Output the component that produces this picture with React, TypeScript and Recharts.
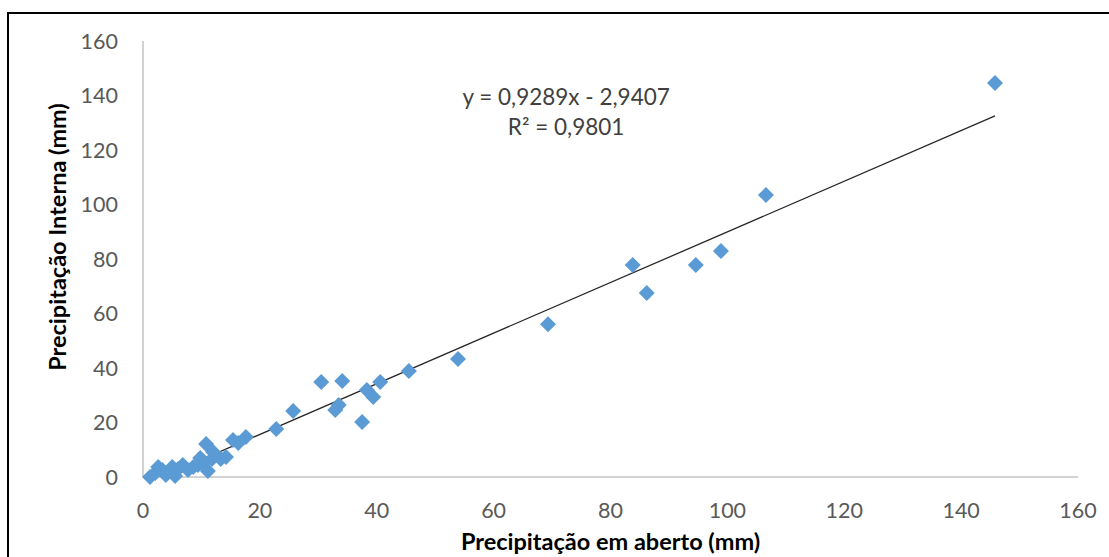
import React from "react";
import {
  ScatterChart,
  Scatter,
  XAxis,
  YAxis,
  ReferenceLine,
  ReferenceDot,
} from "recharts";

// Precipitação em aberto (mm) vs. precipitação interna (mm)
const openRain = [
  145.8, 106.6, 98.9, 94.6, 83.8, 86.2, 69.3, 53.9, 45.5, 40.6, 39.4, 38.3,
  34.1, 30.5, 33.5, 32.9, 37.5, 25.7, 22.8, 17.6, 16.3, 15.4, 14.2, 13.3,
  11.8, 10.8, 11.1, 9.8, 9.4, 8.6, 6.8, 6.0, 5.0, 5.5, 3.3, 2.6, 2.1, 1.2,
  3.9, 7.7, 10.3, 12.0,
];
const innerRain = [
  144.6, 103.5, 82.9, 77.8, 77.8, 67.5, 56.1, 43.3, 38.9, 34.9, 29.4, 31.9,
  35.2, 34.9, 26.4, 24.6, 20.2, 24.2, 17.6, 14.7, 12.5, 13.6, 7.3, 6.6, 6.6,
  12.1, 2.2, 7.0, 4.4, 3.7, 4.4, 2.9, 3.7, 0.4, 2.6, 3.7, 1.5, 0, 0.7, 2.6,
  5.1, 9.2,
];
const axisTicks = [0, 20, 40, 60, 80, 100, 120, 140, 160];

// linear fit shown on the chart
const slope = 0.9289;
const intercept = -2.9407;
const r2 = 0.9801;

const points = openRain.map((x, i) => ({ x, y: innerRain[i] }));

const fmt = (v: number) => v.toFixed(4).replace(".", ",");
const eqText = `y = ${fmt(slope)}x - ${fmt(Math.abs(intercept))}`;
const r2Text = `R² = ${fmt(r2)}`;

// trend line clipped to the plot area (y >= 0)
const xMin = Math.max(Math.min(...openRain), -intercept / slope);
const xMax = Math.max(...openRain);
const trend = [
  { x: xMin, y: slope * xMin + intercept },
  { x: xMax, y: slope * xMax + intercept },
];

const Diamond = (props: any) => {
  const { cx, cy } = props;
  const r = 8;
  return (
    <path
      d={`M${cx},${cy - r}L${cx + r},${cy}L${cx},${cy + r}L${cx - r},${cy}Z`}
      fill="#5B9BD5"
    />
  );
};

const YTitle = (props: any) => {
  const { viewBox } = props;
  const x = viewBox.x + 57;
  const y = viewBox.y + viewBox.height / 2 - 22;
  return (
    <text
      x={x}
      y={y}
      transform={`rotate(-90, ${x}, ${y})`}
      textAnchor="middle"
      dominantBaseline="central"
      fontSize={23.5}
      fontWeight="bold"
      fill="#000"
    >
      Precipitação Interna (mm)
    </text>
  );
};

const XTitle = (props: any) => {
  const { viewBox } = props;
  const x = viewBox.x + viewBox.width / 2;
  return (
    <text
      x={x}
      y={541}
      textAnchor="middle"
      dominantBaseline="central"
      fontSize={23.5}
      fontWeight="bold"
      fill="#000"
    >
      Precipitação em aberto (mm)
    </text>
  );
};

export default function App() {
  return (
    <div
      style={{
        position: "absolute",
        left: 0,
        top: 0,
        width: 1109,
        height: 557,
        overflow: "hidden",
        background: "#fff",
        fontFamily: "Lato, sans-serif",
      }}
    >
      <div
        style={{
          position: "absolute",
          left: 7,
          top: 12,
          width: 1140,
          height: 600,
          border: "2px solid #000",
        }}
      />
      <div style={{ position: "absolute", left: 0, top: 0 }}>
        <ScatterChart
          width={1109}
          height={557}
          margin={{ top: 41, right: 31, bottom: 0, left: 0 }}
        >
          <XAxis
            type="number"
            dataKey="x"
            domain={[0, 160]}
            ticks={axisTicks}
            height={80}
            tickLine={false}
            tickSize={0}
            tickMargin={26}
            axisLine={{ stroke: "#A6A6A6", strokeWidth: 1 }}
            tick={{ fill: "#595959", fontSize: 21.5 }}
            label={<XTitle />}
          />
          <YAxis
            type="number"
            dataKey="y"
            domain={[0, 160]}
            ticks={axisTicks}
            width={143}
            tickLine={false}
            tickSize={0}
            tickMargin={25}
            axisLine={{ stroke: "#A6A6A6", strokeWidth: 1 }}
            tick={{ fill: "#595959", fontSize: 21.5 }}
            label={<YTitle />}
          />
          <Scatter data={points} shape={<Diamond />} isAnimationActive={false} />
          <ReferenceLine
            segment={trend}
            stroke="#262626"
            strokeWidth={1.3}
          />
          <ReferenceDot
            x={72.4}
            y={139.4}
            r={0}
            label={{ value: eqText, position: "center", fill: "#404040", fontSize: 22.5 }}
          />
          <ReferenceDot
            x={72.4}
            y={128.4}
            r={0}
            label={{ value: r2Text, position: "center", fill: "#404040", fontSize: 22.5 }}
          />
        </ScatterChart>
      </div>
    </div>
  );
}
